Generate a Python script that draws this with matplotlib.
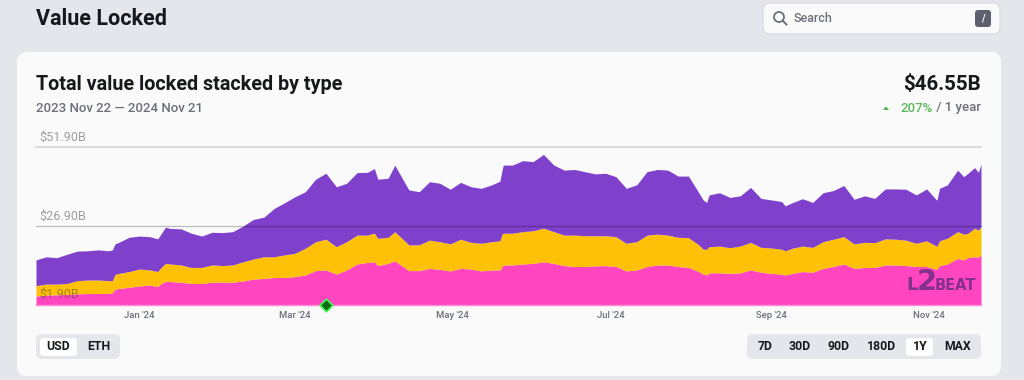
import matplotlib
matplotlib.use('Agg')
import matplotlib.pyplot as plt
from matplotlib.patches import FancyBboxPatch, Circle, Polygon
import pandas as pd

plt.rcParams['font.family'] = ['Roboto', 'DejaVu Sans']

# stacked levels in $B, every 4 days
total = [16.1, 17.1, 16.8, 17.9, 18.9, 19.0, 19.3, 19.0, 21.7, 23.3, 23.7, 23.5, 24.0, 26.1, 26.0, 24.6, 23.7, 24.9, 24.8, 25.1,
         26.9, 29.0, 29.7, 32.5, 34.3, 36.2, 37.8, 41.8, 43.7, 39.4,
         40.5, 43.9, 44.0, 41.8, 42.1, 44.2, 38.4, 37.8, 41.0, 40.5, 38.6, 40.8, 39.4, 38.9, 40.0, 44.7, 46.3, 47.7, 47.4, 49.7,
         46.3, 44.7, 44.9, 44.2, 43.5, 43.7, 42.6, 38.9, 40.0, 44.2, 44.9, 44.7, 42.8,
         42.8, 37.5, 36.8, 37.5, 36.0, 36.5, 39.2, 35.7, 35.2, 34.7, 34.3, 35.6, 34.4, 37.5, 38.2, 39.8, 35.4, 36.5, 35.7, 38.7,
         38.7, 38.6, 36.8, 38.7, 35.2, 40.0, 44.7, 43.7, 44.0, 46.6]
external_top = [7.9, 8.4, 8.4, 8.6, 9.5, 9.7, 9.7, 9.5, 11.8, 12.4, 13.2, 12.9, 13.4, 14.8, 14.5, 13.7, 13.7, 14.5, 14.3, 14.5,
                15.5, 16.4, 17.1, 17.1, 17.7, 18.2, 19.8, 21.9, 22.7, 20.3,
                21.9, 24.0, 24.0, 23.0, 23.3, 24.0, 20.9, 20.9, 22.4, 21.9, 21.2, 22.7, 21.7, 21.4, 21.9, 24.3, 24.6, 25.1, 25.4, 26.2,
                25.1, 24.0, 24.0, 23.8, 23.8, 23.8, 23.5, 21.4, 21.9, 24.0, 24.3, 24.0, 23.3,
                23.2, 20.9, 20.3, 20.5, 20.0, 20.5, 21.7, 20.1, 19.9, 19.5, 19.8, 20.5, 20.1, 21.9, 22.7, 23.5, 21.2, 21.7, 21.6, 22.8,
                22.7, 22.4, 21.4, 22.2, 20.5, 23.0, 25.1, 24.6, 25.6, 26.7]
canonical_top = [4.6, 4.9, 5.0, 5.1, 5.3, 5.4, 5.4, 5.4, 7.0, 7.4, 7.8, 8.1, 8.4, 9.2, 9.0, 8.6, 8.6, 9.0, 9.0, 9.0,
                 9.4, 10.0, 10.2, 10.5, 10.5, 10.8, 11.3, 12.7, 12.9, 11.6,
                 12.9, 14.8, 15.3, 14.3, 15.0, 15.0, 12.7, 12.7, 13.4, 13.1, 12.6, 13.4, 13.2, 12.6, 12.9, 14.0, 14.5, 14.8, 15.0, 15.5,
                 15.0, 14.3, 14.0, 14.0, 14.2, 14.3, 14.0, 12.6, 12.9, 14.0, 14.5, 14.5, 14.0,
                 13.7, 12.4, 12.0, 12.0, 11.8, 12.0, 12.9, 12.2, 11.8, 11.6, 11.8, 12.4, 12.2, 13.4, 14.0, 14.8, 13.4, 13.7, 13.7, 14.5,
                 14.5, 14.3, 14.0, 14.0, 13.2, 14.8, 16.6, 16.9, 17.0, 17.7]

# sharp peaks and dips that fall between the 4 day samples
extra_days = [29.5, 30.5, 47, 50, 130.7, 138.6, 179.2, 180.5, 257.7, 259, 289.4, 347.8, 349, 358.3, 362.5]
extra_total = [19.3, 21.2, 22.8, 26.5, 45.2, 46.3, 41.2, 46.3, 35.2, 34.4, 33.3, 35.2, 38.9, 42.6, 45.5]
extra_external = [9.5, 11.5, 12.4, 15.0, 24.6, 25.1, 22.2, 24.6, 19.5, 19.5, 19.0, 20.5, 22.2, 24.3, 26.2]
extra_canonical = [5.7, 6.8, 7.6, 9.3, 15.5, 15.8, 12.9, 14.5, 11.6, 11.3, 11.3, 13.1, 14.3, 16.1, 17.1]

y_levels = [51.9, 26.9, 1.9]
y_labels = ['$51.90B', '$26.90B', '$1.90B']
month_ticks = ['2024-01-01', '2024-03-01', '2024-05-01', '2024-07-01', '2024-09-01', '2024-11-01']
month_labels = ["Jan '24", "Mar '24", "May '24", "Jul '24", "Sep '24", "Nov '24"]
range_buttons = ['7D', '30D', '90D', '180D', '1Y', 'MAX']
range_centers = [765, 800, 839, 881, 920, 958]

start = pd.Timestamp('2023-11-22')
dates = list(pd.date_range(start, periods=92, freq='4D')) + [pd.Timestamp('2024-11-21')]
extra_dates = list(start + pd.to_timedelta(extra_days, unit='D'))
df = pd.DataFrame({
    'date': dates + extra_dates,
    'total': total + extra_total,
    'external': external_top + extra_external,
    'canonical': canonical_top + extra_canonical,
}).sort_values('date')

W, H = 1024, 380
fig = plt.figure(figsize=(W / 100, H / 100), dpi=100, facecolor='#e5e6ec')

# page furniture goes in a pixel-coordinate axes
page = fig.add_axes([0, 0, 1, 1])
page.set_xlim(0, W)
page.set_ylim(H, 0)
page.axis('off')


def box(x0, y0, x1, y1, color, r=6, edge='none'):
    page.add_patch(FancyBboxPatch((x0 + r, y0 + r), x1 - x0 - 2 * r, y1 - y0 - 2 * r,
                                  boxstyle=f'round,pad={r},rounding_size={r}', fc=color, ec=edge, lw=0.8))


TEXT_DARK = '#17181c'
TEXT_GREY = '#6b6f7b'
box(17, 52, 1001, 376, '#fafafa', r=10)
box(763, 3, 1000, 34, '#fafafa', r=7, edge='#d6d8e2')
box(975, 10, 991, 27, '#5d6070', r=3)
page.text(983, 18.5, '/', color='white', fontsize=7, fontweight='bold', ha='center', va='center')
page.add_patch(Circle((779, 17), 5, fc='none', ec=TEXT_GREY, lw=1.3))
page.plot([783, 786.5], [21, 24.5], color=TEXT_GREY, lw=1.4)
page.text(794, 18, 'Search', color=TEXT_GREY, fontsize=9, fontweight='medium', va='center')

page.text(36, 19, 'Value Locked', color=TEXT_DARK, fontsize=15.5, fontweight='bold', va='center')
page.text(36, 84, 'Total value locked stacked by type', color=TEXT_DARK, fontsize=14.2, fontweight='bold', va='center')
page.text(36, 108, '2023 Nov 22 — 2024 Nov 21', color=TEXT_GREY, fontsize=9.5, fontweight='medium', va='center')
page.text(981, 84, '$46.55B', color=TEXT_DARK, fontsize=14.8, fontweight='bold', ha='right', va='center')
page.text(981, 108, ' / 1 year', color=TEXT_GREY, fontsize=9.5, fontweight='medium', ha='right', va='center')
page.text(933, 108, '207%', color='#5cb85c', fontsize=9.5, fontweight='medium', ha='right', va='center')
page.add_patch(Polygon([[883, 110], [889, 110], [886, 106.5]], fc='#4caf50', ec='none'))

# currency toggle
box(36, 334, 120, 359, '#e5e6ec', r=6)
box(40, 338, 77, 356, 'white', r=4)
page.text(58, 347, 'USD', color=TEXT_DARK, fontsize=8.8, fontweight='bold', ha='center', va='center')
page.text(98.5, 347, 'ETH', color=TEXT_DARK, fontsize=8.8, fontweight='bold', ha='center', va='center')

# range toggle
box(747, 334, 981, 359, '#e5e6ec', r=6)
box(906, 338, 933, 356, 'white', r=4)
for label, cx in zip(range_buttons, range_centers):
    page.text(cx, 347, label, color=TEXT_DARK, fontsize=8.8, fontweight='bold', ha='center', va='center')

# chart
ax = fig.add_axes([36 / W, 1 - 304.5 / H, 945 / W, 157 / H])
ax.set_zorder(1)
ax.patch.set_alpha(0)
ax.fill_between(df['date'], y_levels[2], df['canonical'], color='#ff46c0', lw=0)
ax.fill_between(df['date'], df['canonical'], df['external'], color='#ffc107', lw=0)
ax.fill_between(df['date'], df['external'], df['total'], color='#7f41cc', lw=0)
ax.set_xlim(dates[0], dates[-1])
ax.set_ylim(y_levels[2], y_levels[0])
for spine in ax.spines.values():
    spine.set_visible(False)
ax.set_yticks([])
ax.set_xticks(pd.to_datetime(month_ticks))
ax.set_xticklabels(month_labels, fontsize=6.8, fontweight='medium', color=TEXT_GREY)
ax.tick_params(axis='x', length=0, pad=5)

for level, label in zip(y_levels, y_labels):
    ax.annotate(label, (0, level), xycoords=('axes fraction', 'data'), xytext=(2.6, 2.5), textcoords='offset points',
                fontsize=9.1, color='#44444480', va='bottom', zorder=4)
ax.axhline(y_levels[0], color='#d4d4d6', lw=1.2, clip_on=False, zorder=3)
ax.axhline(y_levels[1], color='#00000040', lw=0.9, clip_on=False, zorder=3)
ax.axhline(y_levels[2], color='#ff8ad8', lw=1, clip_on=False, zorder=3)

# activity marker
ax.scatter([pd.Timestamp('2024-03-13')], [y_levels[2]], marker='D', s=42, c='#0b6b16', edgecolors='#3dff4c',
           linewidths=1.2, clip_on=False, zorder=5)

# watermark
for x_px, label, size in [(906, 'L', 13), (917, '2', 21), (935, 'BEAT', 10.5)]:
    fig.text(x_px / W, 1 - 290 / H, label, fontsize=size, color='#5a2a78', alpha=0.75, fontweight='bold',
             family='Liberation Sans Narrow', ha='left', va='baseline', zorder=5)

fig.savefig('out.png', dpi=100, facecolor=fig.get_facecolor())
